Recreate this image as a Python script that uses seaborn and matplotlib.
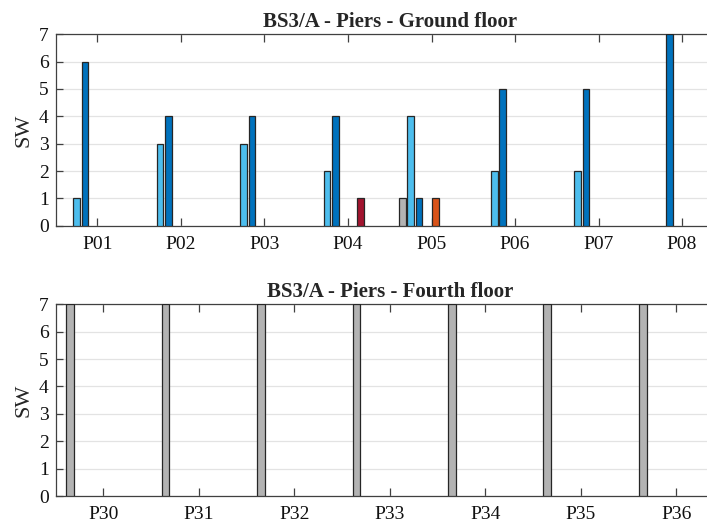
import matplotlib
matplotlib.use("Agg")
import matplotlib.pyplot as plt
import seaborn as sns
import pandas as pd
import numpy as np

# ---- data ----
series = ["S1", "S2", "S3", "S4", "S5", "S6", "S7", "S8"]
series_colors = ["#b3b3b3", "#4dbeee", "#0072bd", "#edb120",
                 "#d95319", "#a2142f", "#7e2f8e", "#77ac30"]

ground_piers = ["P01", "P02", "P03", "P04", "P05", "P06", "P07", "P08"]
ground_S1 = [0, 0, 0, 0, 1, 0, 0, 0]
ground_S2 = [1, 3, 3, 2, 4, 2, 2, 0]
ground_S3 = [6, 4, 4, 4, 1, 5, 5, 7]
ground_S4 = [0, 0, 0, 0, 0, 0, 0, 0]
ground_S5 = [0, 0, 0, 0, 1, 0, 0, 0]
ground_S6 = [0, 0, 0, 1, 0, 0, 0, 0]
ground_S7 = [0, 0, 0, 0, 0, 0, 0, 0]
ground_S8 = [0, 0, 0, 0, 0, 0, 0, 0]

fourth_piers = ["P30", "P31", "P32", "P33", "P34", "P35", "P36"]
fourth_S1 = [7, 7, 7, 7, 7, 7, 7]
fourth_S2 = [0, 0, 0, 0, 0, 0, 0]
fourth_S3 = [0, 0, 0, 0, 0, 0, 0]
fourth_S4 = [0, 0, 0, 0, 0, 0, 0]
fourth_S5 = [0, 0, 0, 0, 0, 0, 0]
fourth_S6 = [0, 0, 0, 0, 0, 0, 0]
fourth_S7 = [0, 0, 0, 0, 0, 0, 0]
fourth_S8 = [0, 0, 0, 0, 0, 0, 0]

yticks = [0, 1, 2, 3, 4, 5, 6, 7]


def long_df(piers, cols):
    rows = []
    for s, vals in zip(series, cols):
        for p, v in zip(piers, vals):
            if v > 0:
                rows.append({"pier": p, "series": s, "value": v})
    return pd.DataFrame(rows)


df_ground = long_df(ground_piers, [ground_S1, ground_S2, ground_S3, ground_S4,
                                   ground_S5, ground_S6, ground_S7, ground_S8])
df_fourth = long_df(fourth_piers, [fourth_S1, fourth_S2, fourth_S3, fourth_S4,
                                   fourth_S5, fourth_S6, fourth_S7, fourth_S8])

sns.set_theme(style="white")
plt.rcParams["font.family"] = ["Liberation Serif", "DejaVu Serif"]

fig = plt.figure(figsize=(7.07, 5.28), dpi=100)
ax1 = fig.add_axes([0.0788, 0.5725, 0.945, 0.3626])
ax2 = fig.add_axes([0.0788, 0.0606, 0.945, 0.3631])

palette = dict(zip(series, series_colors))
edge = "#262626"

for ax, df, piers, title in [
    (ax1, df_ground, ground_piers, "BS3/A - Piers - Ground floor"),
    (ax2, df_fourth, fourth_piers, "BS3/A - Piers - Fourth floor"),
]:
    sns.barplot(data=df, x="pier", y="value", hue="series", order=piers,
                hue_order=series, palette=palette, width=0.8, gap=0.2,
                dodge=True, errorbar=None, saturation=1, ax=ax,
                edgecolor=edge, linewidth=0.9, legend=False, zorder=3)
    ax.set_xlim(-0.5, len(piers) - 0.5)
    ax.set_ylim(0, 7)
    ax.set_yticks(yticks)
    ax.set_yticklabels([str(t) for t in yticks])
    ax.set_xlabel("")
    ax.set_ylabel("SW", fontsize=16, labelpad=4)
    ax.set_title(title, fontsize=15, fontweight="bold", pad=5)
    ax.yaxis.grid(True, color="#e3e3e3", linewidth=0.9, zorder=0)
    ax.xaxis.grid(False)
    ax.set_axisbelow(True)
    for sp in ax.spines.values():
        sp.set_visible(True)
        sp.set_color("#404040")
        sp.set_linewidth(0.9)
    ax.tick_params(axis="x", which="both", direction="in", length=6,
                   width=0.9, color="#404040", top=True, bottom=True,
                   labelsize=14, pad=7.5, labelcolor="#111111")
    ax.tick_params(axis="y", which="both", direction="in", length=5,
                   width=0.9, color="#404040", left=True, right=True,
                   labelsize=14, pad=5, labelcolor="#111111")

fig.savefig("out.png", dpi=100)
